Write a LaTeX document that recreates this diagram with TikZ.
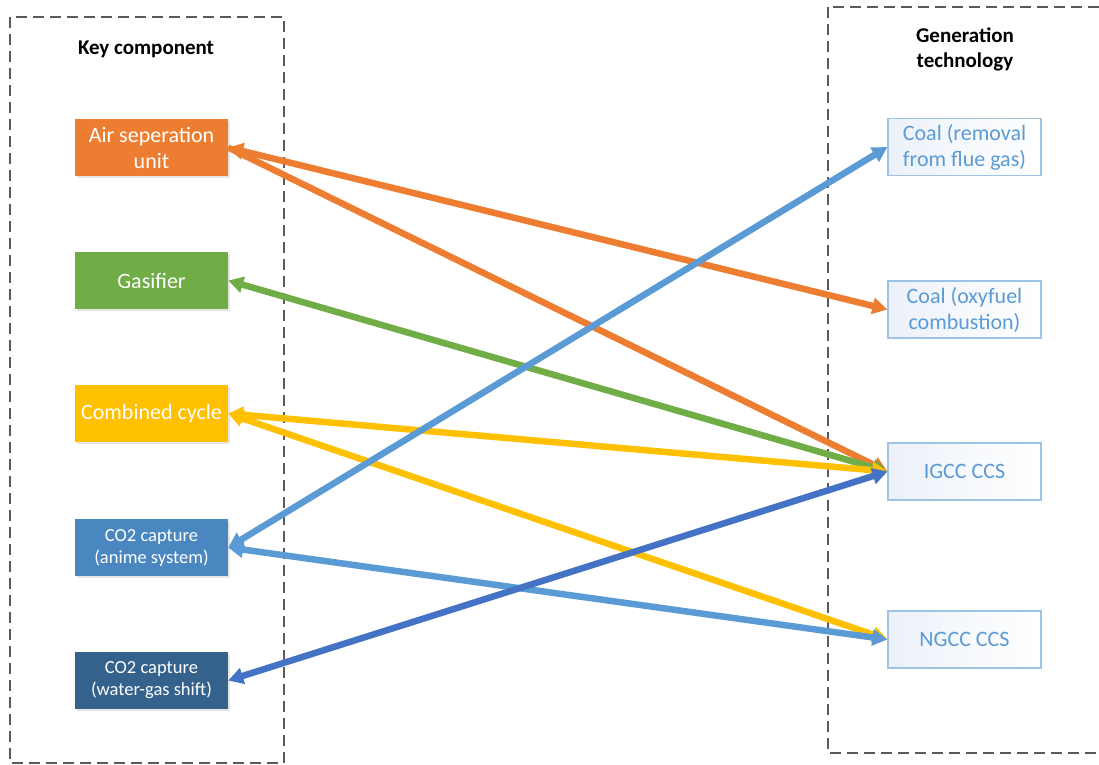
\documentclass[tikz,border=0pt]{standalone}
\usepackage{fontspec}
\setmainfont{Carlito}
\usetikzlibrary{arrows.meta,shadows}

\definecolor{framegray}{HTML}{5A5A5A}
\definecolor{asuorange}{HTML}{ED7D31}
\definecolor{gasgreen}{HTML}{70AD47}
\definecolor{cyclegold}{HTML}{FFC000}
\definecolor{aminebox}{HTML}{4A86C0}
\definecolor{shiftbox}{HTML}{35628C}
\definecolor{linkblue}{HTML}{5B9BD5}
\definecolor{shiftblue}{HTML}{4472C4}
\definecolor{techtext}{HTML}{5B9BD5}
\definecolor{techborder}{HTML}{9DC3E6}
\definecolor{techtint}{HTML}{ECF1F9}

\begin{document}
\begin{tikzpicture}[x=1pt,y=-1pt]
      \clip (0,0) rectangle (1099,764);
      % dashed frames
      \draw[dash pattern=on 11pt off 6pt, line width=1.3pt, color=framegray] (10,17) rectangle (284,763);
      \draw[dash pattern=on 11pt off 6pt, line width=1.3pt, color=framegray] (828,7) rectangle (1110,753);
      \node[font=\bfseries\fontsize{21}{25}\selectfont] (keytitle) at (146,49) {Key component};
      \node[font=\bfseries\fontsize{21}{25}\selectfont, align=center] (gentitle) at (965,49) {Generation\\technology};
      \begin{scope}[every node/.style={minimum width=153pt, minimum height=57pt, inner sep=2pt, align=center, text=white,
          font=\fontsize{22}{26}\selectfont, drop shadow={opacity=0.2, shadow xshift=1.5pt, shadow yshift=-1.5pt}}]
        \node[fill=asuorange] (asu) at (151.5,147.5) {Air seperation\\unit};
        \node[fill=gasgreen] (gasifier) at (151.5,280.5) {Gasifier};
        \node[fill=cyclegold] (cycle) at (151.5,413.5) {Combined cycle};
        \node[fill=aminebox, font=\fontsize{18.5}{22}\selectfont] (amine) at (151.5,547.5) {CO2 capture\\(anime system)};
        \node[fill=shiftbox, font=\fontsize{18.5}{22}\selectfont] (shift) at (151.5,680.5) {CO2 capture\\(water-gas shift)};
      \end{scope}
      \begin{scope}[every node/.style={minimum width=153pt, minimum height=57pt, inner sep=2pt, align=center, text=techtext,
          draw=techborder, line width=1.2pt, left color=techtint, right color=white, font=\fontsize{22}{26}\selectfont}]
        \node (fluegas) at (964.5,147) {Coal (removal\\from flue gas)};
        \node (oxyfuel) at (964.5,309.5) {Coal (oxyfuel\\combustion)};
        \node (igcc) at (964.5,471.5) {IGCC CCS};
        \node (ngcc) at (964.5,639.5) {NGCC CCS};
      \end{scope}
      \begin{scope}[>={Triangle[length=15pt,width=16pt]}, every edge/.style={draw, line width=6.5pt, <->}]
        \path (asu.east) edge[color=asuorange] (oxyfuel.west);
        \path (asu.east) edge[color=asuorange, -> ] (igcc.west);
        \path (gasifier.east) edge[color=gasgreen] (igcc.west);
        \path (cycle.east) edge[color=cyclegold] (igcc.west);
        \path (cycle.east) edge[color=cyclegold] (ngcc.west);
        \path (amine.east) edge[color=linkblue] (fluegas.west);
        \path (amine.east) edge[color=linkblue] (ngcc.west);
        \path (shift.east) edge[color=shiftblue] (igcc.west);
      \end{scope}
    \end{tikzpicture}
\end{document}
